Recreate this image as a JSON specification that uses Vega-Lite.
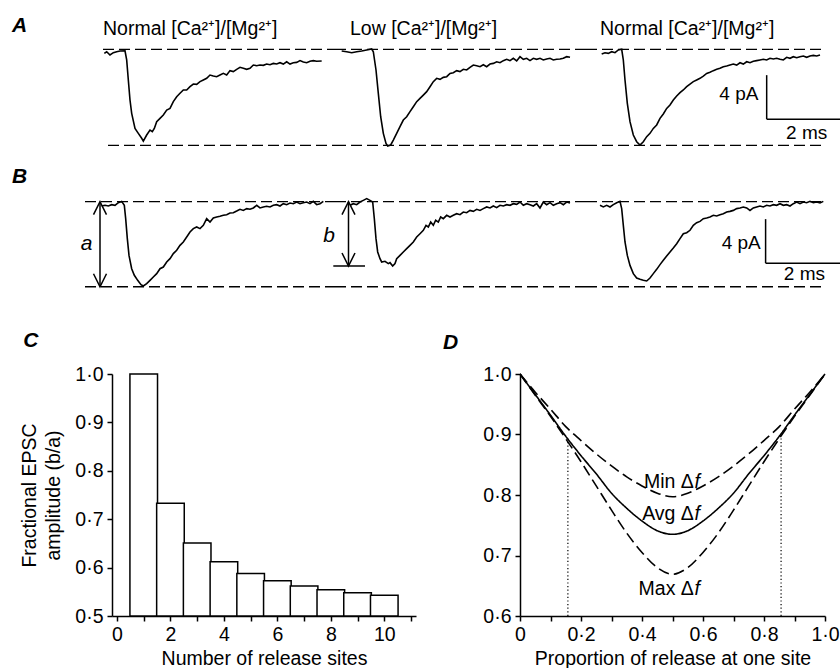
{
  "$schema": "https://vega.github.io/schema/vega-lite/v6.json",
  "padding": 0,
  "background": "white",
  "config": {
    "font": "Liberation Sans",
    "view": {"stroke": null},
    "axis": {"grid": false, "domainColor": "black", "domainWidth": 1.5, "tickColor": "black", "tickWidth": 1.5, "tickSize": 5, "labelColor": "black", "labelFontSize": 19.5, "labelPadding": 4, "labelFlush": false, "labelOverlap": false, "titleColor": "black", "titleFontSize": 19.5, "titleFontWeight": "normal"},
    "text": {"color": "black", "fontSize": 19},
    "line": {"color": "black"},
    "rule": {"color": "black"}
  },
  "datasets": {
    "A1": [{"t":2.608,"i":-0.37},{"t":2.667,"i":-0.22},{"t":2.75,"i":-0.52},{"t":2.833,"i":-0.31},{"t":2.917,"i":-0.22},{"t":3.0,"i":-0.16},{"t":3.125,"i":-0.13},{"t":3.167,"i":-0.97},{"t":3.208,"i":-2.79},{"t":3.25,"i":-4.61},{"t":3.292,"i":-5.82},{"t":3.375,"i":-7.19},{"t":3.458,"i":-7.64},{"t":3.542,"i":-8.09},{"t":3.583,"i":-8.34},{"t":3.667,"i":-7.79},{"t":3.75,"i":-7.34},{"t":3.808,"i":-7.49},{"t":3.858,"i":-7.19},{"t":3.917,"i":-6.58},{"t":4.0,"i":-6.28},{"t":4.083,"i":-5.97},{"t":4.167,"i":-5.52},{"t":4.25,"i":-5.37},{"t":4.333,"i":-4.76},{"t":4.417,"i":-4.31},{"t":4.5,"i":-4.0},{"t":4.583,"i":-3.7},{"t":4.667,"i":-3.7},{"t":4.75,"i":-3.4},{"t":4.833,"i":-3.16},{"t":4.917,"i":-3.19},{"t":5.0,"i":-2.94},{"t":5.083,"i":-2.79},{"t":5.167,"i":-2.64},{"t":5.25,"i":-2.34},{"t":5.333,"i":-2.43},{"t":5.417,"i":-2.49},{"t":5.5,"i":-2.34},{"t":5.583,"i":-2.19},{"t":5.667,"i":-2.34},{"t":5.75,"i":-1.94},{"t":5.833,"i":-2.03},{"t":5.917,"i":-1.82},{"t":6.0,"i":-1.64},{"t":6.083,"i":-1.73},{"t":6.167,"i":-1.82},{"t":6.25,"i":-1.73},{"t":6.333,"i":-1.43},{"t":6.417,"i":-1.49},{"t":6.5,"i":-1.43},{"t":6.583,"i":-1.46},{"t":6.667,"i":-1.34},{"t":6.75,"i":-1.4},{"t":6.833,"i":-1.28},{"t":6.917,"i":-1.34},{"t":7.0,"i":-1.22},{"t":7.083,"i":-1.34},{"t":7.167,"i":-1.13},{"t":7.25,"i":-1.34},{"t":7.333,"i":-1.22},{"t":7.417,"i":-1.19},{"t":7.5,"i":-1.03},{"t":7.583,"i":-1.16},{"t":7.667,"i":-1.22},{"t":7.75,"i":-1.09},{"t":7.833,"i":-1.03},{"t":7.917,"i":-1.09},{"t":8.042,"i":-1.06}],
    "A2": [{"t":0.167,"i":-0.16},{"t":0.292,"i":-0.22},{"t":0.417,"i":-0.31},{"t":0.542,"i":-0.22},{"t":0.667,"i":-0.16},{"t":0.792,"i":-0.06},{"t":0.917,"i":0.03},{"t":0.958,"i":-0.22},{"t":1.025,"i":-1.88},{"t":1.083,"i":-4.0},{"t":1.142,"i":-6.13},{"t":1.208,"i":-7.64},{"t":1.275,"i":-8.55},{"t":1.317,"i":-8.79},{"t":1.392,"i":-8.7},{"t":1.458,"i":-8.25},{"t":1.542,"i":-7.64},{"t":1.625,"i":-7.03},{"t":1.708,"i":-6.43},{"t":1.792,"i":-6.13},{"t":1.875,"i":-5.67},{"t":1.958,"i":-5.22},{"t":2.042,"i":-4.76},{"t":2.125,"i":-4.46},{"t":2.208,"i":-4.16},{"t":2.292,"i":-3.85},{"t":2.375,"i":-3.4},{"t":2.458,"i":-2.94},{"t":2.542,"i":-2.64},{"t":2.625,"i":-2.73},{"t":2.708,"i":-2.55},{"t":2.792,"i":-2.49},{"t":2.875,"i":-2.19},{"t":2.958,"i":-2.13},{"t":3.042,"i":-1.94},{"t":3.125,"i":-2.03},{"t":3.208,"i":-1.82},{"t":3.292,"i":-1.88},{"t":3.375,"i":-1.64},{"t":3.458,"i":-1.43},{"t":3.542,"i":-1.49},{"t":3.625,"i":-1.58},{"t":3.708,"i":-1.4},{"t":3.792,"i":-1.58},{"t":3.875,"i":-1.34},{"t":3.958,"i":-1.28},{"t":4.042,"i":-1.13},{"t":4.125,"i":-1.22},{"t":4.208,"i":-1.03},{"t":4.292,"i":-0.91},{"t":4.375,"i":-1.03},{"t":4.458,"i":-0.82},{"t":4.542,"i":-1.06},{"t":4.625,"i":-0.67},{"t":4.708,"i":-0.91},{"t":4.792,"i":-0.82},{"t":4.875,"i":-1.03},{"t":4.958,"i":-0.82},{"t":5.042,"i":-0.91},{"t":5.125,"i":-0.82},{"t":5.208,"i":-0.97},{"t":5.292,"i":-0.88},{"t":5.375,"i":-0.82},{"t":5.458,"i":-0.97},{"t":5.542,"i":-0.91},{"t":5.625,"i":-0.88},{"t":5.708,"i":-0.82},{"t":5.792,"i":-0.67},{"t":5.875,"i":-0.73}],
    "A3": [{"t":0.392,"i":-0.43},{"t":0.475,"i":-0.31},{"t":0.558,"i":-0.37},{"t":0.642,"i":-0.22},{"t":0.725,"i":-0.31},{"t":0.808,"i":-0.06},{"t":0.892,"i":0.0},{"t":0.933,"i":-0.97},{"t":0.975,"i":-2.79},{"t":1.033,"i":-4.91},{"t":1.1,"i":-6.58},{"t":1.183,"i":-7.79},{"t":1.267,"i":-8.4},{"t":1.35,"i":-8.7},{"t":1.433,"i":-8.4},{"t":1.517,"i":-7.94},{"t":1.6,"i":-7.64},{"t":1.683,"i":-7.19},{"t":1.767,"i":-6.88},{"t":1.85,"i":-6.28},{"t":1.933,"i":-5.88},{"t":2.017,"i":-5.37},{"t":2.1,"i":-5.06},{"t":2.183,"i":-4.61},{"t":2.267,"i":-4.25},{"t":2.35,"i":-3.94},{"t":2.433,"i":-3.7},{"t":2.517,"i":-3.4},{"t":2.6,"i":-3.16},{"t":2.683,"i":-2.94},{"t":2.767,"i":-2.79},{"t":2.85,"i":-2.64},{"t":2.933,"i":-2.43},{"t":3.017,"i":-2.19},{"t":3.1,"i":-2.09},{"t":3.183,"i":-1.94},{"t":3.267,"i":-1.82},{"t":3.35,"i":-1.73},{"t":3.433,"i":-1.58},{"t":3.517,"i":-1.52},{"t":3.6,"i":-1.43},{"t":3.683,"i":-1.34},{"t":3.767,"i":-1.43},{"t":3.85,"i":-1.22},{"t":3.933,"i":-1.34},{"t":4.017,"i":-1.13},{"t":4.1,"i":-1.22},{"t":4.183,"i":-1.09},{"t":4.267,"i":-1.03},{"t":4.35,"i":-0.97},{"t":4.433,"i":-0.91},{"t":4.517,"i":-0.97},{"t":4.6,"i":-0.82},{"t":4.683,"i":-0.88},{"t":4.767,"i":-0.82},{"t":4.85,"i":-0.91},{"t":4.933,"i":-0.97},{"t":5.017,"i":-0.73},{"t":5.1,"i":-0.82},{"t":5.183,"i":-0.67},{"t":5.267,"i":-0.76},{"t":5.35,"i":-0.67},{"t":5.433,"i":-0.61},{"t":5.517,"i":-0.73},{"t":5.6,"i":-0.61},{"t":5.683,"i":-0.55},{"t":5.767,"i":-0.61},{"t":5.85,"i":-0.52}],
    "B1": [{"t":2.542,"i":-0.39},{"t":2.625,"i":-0.33},{"t":2.708,"i":-0.39},{"t":2.792,"i":-0.27},{"t":2.875,"i":-0.33},{"t":2.958,"i":-0.09},{"t":3.042,"i":0.03},{"t":3.108,"i":-0.33},{"t":3.142,"i":-1.54},{"t":3.183,"i":-3.36},{"t":3.225,"i":-4.88},{"t":3.292,"i":-6.09},{"t":3.358,"i":-6.69},{"t":3.442,"i":-7.15},{"t":3.525,"i":-7.54},{"t":3.583,"i":-7.66},{"t":3.667,"i":-7.45},{"t":3.75,"i":-7.15},{"t":3.833,"i":-6.85},{"t":3.917,"i":-6.54},{"t":4.0,"i":-6.09},{"t":4.083,"i":-5.94},{"t":4.167,"i":-5.48},{"t":4.25,"i":-5.18},{"t":4.333,"i":-4.72},{"t":4.417,"i":-4.42},{"t":4.5,"i":-3.97},{"t":4.583,"i":-3.66},{"t":4.667,"i":-3.21},{"t":4.75,"i":-2.75},{"t":4.833,"i":-2.45},{"t":4.917,"i":-2.3},{"t":5.0,"i":-2.45},{"t":5.083,"i":-2.15},{"t":5.167,"i":-1.54},{"t":5.25,"i":-1.85},{"t":5.333,"i":-1.48},{"t":5.417,"i":-1.39},{"t":5.5,"i":-1.33},{"t":5.583,"i":-1.24},{"t":5.667,"i":-1.18},{"t":5.75,"i":-1.03},{"t":5.833,"i":-1.0},{"t":5.917,"i":-0.85},{"t":6.0,"i":-0.69},{"t":6.083,"i":-0.79},{"t":6.167,"i":-0.63},{"t":6.25,"i":-0.69},{"t":6.333,"i":-0.57},{"t":6.417,"i":-0.33},{"t":6.5,"i":-0.57},{"t":6.583,"i":-0.48},{"t":6.667,"i":-0.42},{"t":6.75,"i":-0.48},{"t":6.833,"i":-0.33},{"t":6.917,"i":-0.27},{"t":7.0,"i":-0.39},{"t":7.083,"i":-0.18},{"t":7.167,"i":-0.27},{"t":7.25,"i":-0.12},{"t":7.333,"i":-0.18},{"t":7.417,"i":-0.03},{"t":7.5,"i":-0.18},{"t":7.583,"i":-0.09},{"t":7.667,"i":-0.03},{"t":7.75,"i":-0.18},{"t":7.833,"i":0.03},{"t":7.917,"i":-0.27},{"t":8.0,"i":-0.18},{"t":8.083,"i":0.03}],
    "B2": [{"t":0.375,"i":-0.33},{"t":0.458,"i":-0.18},{"t":0.542,"i":-0.27},{"t":0.625,"i":-0.03},{"t":0.708,"i":0.12},{"t":0.792,"i":0.28},{"t":0.875,"i":0.12},{"t":0.942,"i":-0.03},{"t":0.983,"i":-1.54},{"t":1.025,"i":-3.36},{"t":1.067,"i":-4.57},{"t":1.125,"i":-5.18},{"t":1.167,"i":-5.48},{"t":1.25,"i":-5.42},{"t":1.333,"i":-5.63},{"t":1.375,"i":-5.54},{"t":1.442,"i":-5.85},{"t":1.5,"i":-5.63},{"t":1.542,"i":-5.18},{"t":1.625,"i":-4.88},{"t":1.708,"i":-4.57},{"t":1.792,"i":-4.27},{"t":1.875,"i":-3.97},{"t":1.958,"i":-3.66},{"t":2.042,"i":-3.21},{"t":2.125,"i":-2.91},{"t":2.208,"i":-2.6},{"t":2.275,"i":-2.15},{"t":2.333,"i":-2.3},{"t":2.392,"i":-1.85},{"t":2.458,"i":-2.15},{"t":2.517,"i":-1.69},{"t":2.583,"i":-1.85},{"t":2.642,"i":-1.39},{"t":2.708,"i":-1.54},{"t":2.792,"i":-1.24},{"t":2.875,"i":-1.39},{"t":2.958,"i":-1.24},{"t":3.042,"i":-1.09},{"t":3.125,"i":-1.18},{"t":3.208,"i":-0.94},{"t":3.292,"i":-1.0},{"t":3.375,"i":-0.79},{"t":3.458,"i":-0.88},{"t":3.542,"i":-0.69},{"t":3.625,"i":-0.79},{"t":3.708,"i":-0.63},{"t":3.792,"i":-0.48},{"t":3.875,"i":-0.57},{"t":3.958,"i":-0.39},{"t":4.042,"i":-0.54},{"t":4.125,"i":-0.33},{"t":4.208,"i":-0.39},{"t":4.292,"i":-0.27},{"t":4.375,"i":-0.33},{"t":4.458,"i":-0.18},{"t":4.542,"i":-0.24},{"t":4.625,"i":-0.03},{"t":4.708,"i":-0.33},{"t":4.792,"i":-0.18},{"t":4.875,"i":-0.27},{"t":4.958,"i":-0.39},{"t":5.042,"i":-0.18},{"t":5.125,"i":-0.57},{"t":5.208,"i":-0.03},{"t":5.292,"i":-0.27},{"t":5.375,"i":-0.09},{"t":5.458,"i":-0.33},{"t":5.542,"i":-0.18},{"t":5.625,"i":-0.09},{"t":5.708,"i":-0.27},{"t":5.792,"i":-0.03},{"t":5.875,"i":-0.12}],
    "B3": [{"t":0.35,"i":-0.33},{"t":0.433,"i":-0.48},{"t":0.517,"i":-0.33},{"t":0.6,"i":-0.48},{"t":0.683,"i":-0.27},{"t":0.767,"i":-0.09},{"t":0.85,"i":0.03},{"t":0.892,"i":-0.63},{"t":0.933,"i":-2.15},{"t":0.975,"i":-3.66},{"t":1.033,"i":-4.88},{"t":1.1,"i":-5.79},{"t":1.183,"i":-6.54},{"t":1.267,"i":-6.94},{"t":1.35,"i":-7.06},{"t":1.433,"i":-7.15},{"t":1.517,"i":-7.21},{"t":1.6,"i":-6.94},{"t":1.683,"i":-6.54},{"t":1.767,"i":-6.15},{"t":1.85,"i":-5.72},{"t":1.933,"i":-5.33},{"t":2.017,"i":-4.94},{"t":2.1,"i":-4.57},{"t":2.183,"i":-4.21},{"t":2.267,"i":-3.82},{"t":2.35,"i":-3.36},{"t":2.433,"i":-2.91},{"t":2.517,"i":-2.82},{"t":2.6,"i":-2.6},{"t":2.683,"i":-2.15},{"t":2.767,"i":-1.91},{"t":2.85,"i":-1.79},{"t":2.933,"i":-1.54},{"t":3.017,"i":-1.48},{"t":3.1,"i":-1.39},{"t":3.183,"i":-1.24},{"t":3.267,"i":-1.3},{"t":3.35,"i":-1.18},{"t":3.433,"i":-1.09},{"t":3.517,"i":-0.94},{"t":3.6,"i":-0.88},{"t":3.683,"i":-0.79},{"t":3.767,"i":-0.63},{"t":3.85,"i":-0.57},{"t":3.933,"i":-0.48},{"t":4.017,"i":-0.57},{"t":4.1,"i":-0.79},{"t":4.183,"i":-0.57},{"t":4.267,"i":-0.48},{"t":4.35,"i":-0.39},{"t":4.433,"i":-0.48},{"t":4.517,"i":-0.33},{"t":4.6,"i":-0.39},{"t":4.683,"i":-0.27},{"t":4.767,"i":-0.33},{"t":4.85,"i":-0.18},{"t":4.933,"i":-0.33},{"t":5.017,"i":-0.27},{"t":5.1,"i":-0.39},{"t":5.183,"i":-0.18},{"t":5.267,"i":-0.03},{"t":5.35,"i":-0.18},{"t":5.433,"i":-0.03},{"t":5.517,"i":-0.09},{"t":5.6,"i":0.03},{"t":5.683,"i":-0.09},{"t":5.767,"i":-0.03},{"t":5.85,"i":-0.12},{"t":5.933,"i":0.03}],
    "sites": [{"n":1,"ratio":1.0},{"n":2,"ratio":0.733},{"n":3,"ratio":0.651},{"n":4,"ratio":0.612},{"n":5,"ratio":0.588},{"n":6,"ratio":0.573},{"n":7,"ratio":0.562},{"n":8,"ratio":0.554},{"n":9,"ratio":0.548},{"n":10,"ratio":0.543}],
    "curves": [
      {"curve":"Avg","p":0,"v":1.0},{"curve":"Avg","p":0.05,"v":0.966},{"curve":"Avg","p":0.1,"v":0.932},{"curve":"Avg","p":0.15,"v":0.897},{"curve":"Avg","p":0.2,"v":0.865},{"curve":"Avg","p":0.25,"v":0.835},{"curve":"Avg","p":0.3,"v":0.803},{"curve":"Avg","p":0.35,"v":0.778},{"curve":"Avg","p":0.4,"v":0.757},{"curve":"Avg","p":0.45,"v":0.741},{"curve":"Avg","p":0.5,"v":0.735},{"curve":"Avg","p":0.55,"v":0.741},{"curve":"Avg","p":0.6,"v":0.757},{"curve":"Avg","p":0.65,"v":0.778},{"curve":"Avg","p":0.7,"v":0.803},{"curve":"Avg","p":0.75,"v":0.835},{"curve":"Avg","p":0.8,"v":0.865},{"curve":"Avg","p":0.85,"v":0.897},{"curve":"Avg","p":0.9,"v":0.932},{"curve":"Avg","p":0.95,"v":0.966},{"curve":"Avg","p":1.0,"v":1.0},
      {"curve":"Min","p":0,"v":1.0},{"curve":"Min","p":0.05,"v":0.97},{"curve":"Min","p":0.1,"v":0.942},{"curve":"Min","p":0.15,"v":0.913},{"curve":"Min","p":0.2,"v":0.89},{"curve":"Min","p":0.25,"v":0.868},{"curve":"Min","p":0.3,"v":0.848},{"curve":"Min","p":0.35,"v":0.83},{"curve":"Min","p":0.4,"v":0.815},{"curve":"Min","p":0.45,"v":0.803},{"curve":"Min","p":0.5,"v":0.797},{"curve":"Min","p":0.55,"v":0.803},{"curve":"Min","p":0.6,"v":0.815},{"curve":"Min","p":0.65,"v":0.83},{"curve":"Min","p":0.7,"v":0.848},{"curve":"Min","p":0.75,"v":0.868},{"curve":"Min","p":0.8,"v":0.89},{"curve":"Min","p":0.85,"v":0.913},{"curve":"Min","p":0.9,"v":0.942},{"curve":"Min","p":0.95,"v":0.97},{"curve":"Min","p":1.0,"v":1.0},
      {"curve":"Max","p":0,"v":1.0},{"curve":"Max","p":0.05,"v":0.965},{"curve":"Max","p":0.1,"v":0.93},{"curve":"Max","p":0.15,"v":0.893},{"curve":"Max","p":0.2,"v":0.855},{"curve":"Max","p":0.25,"v":0.815},{"curve":"Max","p":0.3,"v":0.775},{"curve":"Max","p":0.35,"v":0.737},{"curve":"Max","p":0.4,"v":0.705},{"curve":"Max","p":0.45,"v":0.68},{"curve":"Max","p":0.5,"v":0.669},{"curve":"Max","p":0.55,"v":0.68},{"curve":"Max","p":0.6,"v":0.705},{"curve":"Max","p":0.65,"v":0.737},{"curve":"Max","p":0.7,"v":0.775},{"curve":"Max","p":0.75,"v":0.815},{"curve":"Max","p":0.8,"v":0.855},{"curve":"Max","p":0.85,"v":0.893},{"curve":"Max","p":0.9,"v":0.93},{"curve":"Max","p":0.95,"v":0.965},{"curve":"Max","p":1.0,"v":1.0}
    ]
  },
  "spacing": 0,
  "vconcat": [
    {
      "spacing": 0,
      "bounds": "flush",
      "hconcat": [
        {
          "width": 335, "height": 155,
          "encoding": {
            "x": {"field": "t", "type": "quantitative", "scale": {"domain": [0, 8.375], "nice": false, "zero": false}, "axis": null},
            "y": {"field": "i", "type": "quantitative", "scale": {"domain": [-9.609, 4.482], "nice": false, "zero": false}, "axis": null}
          },
          "layer": [
            {"data": {"values": [{"t": 2.575, "t2": 8.375, "i": 0}, {"t": 2.7, "t2": 8.375, "i": -8.73}]}, "mark": {"type": "rule", "strokeDash": [11, 5], "strokeWidth": 1.3}, "encoding": {"x2": {"field": "t2"}}},
            {"data": {"name": "A1"}, "mark": {"type": "line", "strokeWidth": 1.6}},
            {"data": {"values": [{"t": 2.575, "i": 1.345, "label": "Normal [Ca²⁺]/[Mg²⁺]"}]}, "mark": {"type": "text", "align": "left", "baseline": "alphabetic", "fontSize": 19.5}, "encoding": {"text": {"field": "label"}}},
            {"data": {"values": [{"t": 0.3, "i": 1.545, "label": "A"}]}, "mark": {"type": "text", "align": "left", "baseline": "alphabetic", "fontSize": 21, "fontWeight": "bold", "fontStyle": "italic"}, "encoding": {"text": {"field": "label"}}}
          ]
        },
        {
          "width": 251, "height": 155,
          "encoding": {
            "x": {"field": "t", "type": "quantitative", "scale": {"domain": [0, 6.275], "nice": false, "zero": false}, "axis": null},
            "y": {"field": "i", "type": "quantitative", "scale": {"domain": [-9.609, 4.482], "nice": false, "zero": false}, "axis": null}
          },
          "layer": [
            {"data": {"values": [{"t": 0, "t2": 6.275, "i": 0}, {"t": 0, "t2": 6.275, "i": -8.73}]}, "mark": {"type": "rule", "strokeDash": [11, 5], "strokeWidth": 1.3}, "encoding": {"x2": {"field": "t2"}}},
            {"data": {"name": "A2"}, "mark": {"type": "line", "strokeWidth": 1.6}},
            {"data": {"values": [{"t": 0.375, "i": 1.345, "label": "Low [Ca²⁺]/[Mg²⁺]"}]}, "mark": {"type": "text", "align": "left", "baseline": "alphabetic", "fontSize": 19.5}, "encoding": {"text": {"field": "label"}}}
          ]
        },
        {
          "width": 254, "height": 155,
          "encoding": {
            "x": {"field": "t", "type": "quantitative", "scale": {"domain": [0, 6.35], "nice": false, "zero": false}, "axis": null},
            "y": {"field": "i", "type": "quantitative", "scale": {"domain": [-9.609, 4.482], "nice": false, "zero": false}, "axis": null}
          },
          "layer": [
            {"data": {"values": [{"t": 0, "t2": 5.975, "i": 0}, {"t": 0, "t2": 5.975, "i": -8.73}]}, "mark": {"type": "rule", "strokeDash": [11, 5], "strokeWidth": 1.3}, "encoding": {"x2": {"field": "t2"}}},
            {"data": {"name": "A3"}, "mark": {"type": "line", "strokeWidth": 1.6}},
            {"data": {"values": [{"t": 0.35, "i": 1.345, "label": "Normal [Ca²⁺]/[Mg²⁺]"}]}, "mark": {"type": "text", "align": "left", "baseline": "alphabetic", "fontSize": 19.5}, "encoding": {"text": {"field": "label"}}},
            {"data": {"values": [{"t": 4.517, "i": -2.35, "i2": -6.35}]}, "mark": {"type": "rule", "strokeWidth": 1.5}, "encoding": {"y2": {"field": "i2"}}},
            {"data": {"values": [{"t": 4.517, "t2": 6.517, "i": -6.35}]}, "mark": {"type": "rule", "strokeWidth": 1.5, "clip": true}, "encoding": {"x2": {"field": "t2"}}},
            {"data": {"values": [{"t": 4.31, "i": -4.6, "label": "4 pA"}]}, "mark": {"type": "text", "align": "right", "baseline": "alphabetic"}, "encoding": {"text": {"field": "label"}}},
            {"data": {"values": [{"t": 5.517, "i": -8.12, "label": "2 ms"}]}, "mark": {"type": "text", "align": "center", "baseline": "alphabetic"}, "encoding": {"text": {"field": "label"}}}
          ]
        }
      ]
    },
    {
      "spacing": 0,
      "bounds": "flush",
      "hconcat": [
        {
          "width": 335, "height": 174,
          "encoding": {
            "x": {"field": "t", "type": "quantitative", "scale": {"domain": [0, 8.375], "nice": false, "zero": false}, "axis": null},
            "y": {"field": "i", "type": "quantitative", "scale": {"domain": [-11.573, 4.245], "nice": false, "zero": false}, "axis": null}
          },
          "layer": [
            {"data": {"values": [{"t": 2.125, "t2": 8.375, "i": 0}, {"t": 2.125, "t2": 8.375, "i": -7.73}]}, "mark": {"type": "rule", "strokeDash": [11, 5], "strokeWidth": 1.3}, "encoding": {"x2": {"field": "t2"}}},
            {"data": {"name": "B1"}, "mark": {"type": "line", "strokeWidth": 1.6}},
            {"data": {"values": [{"t": 2.5, "i": 0, "i2": -7.73}]}, "mark": {"type": "rule", "strokeWidth": 1.5}, "encoding": {"y2": {"field": "i2"}}},
            {"data": {"values": [{"t": 2.5, "i": 0}]}, "mark": {"type": "point", "shape": "M-1,2L0,0L1,2", "size": 169, "filled": false, "strokeWidth": 1.5, "color": "black", "opacity": 1}},
            {"data": {"values": [{"t": 2.5, "i": -7.73}]}, "mark": {"type": "point", "shape": "M-1,-2L0,0L1,-2", "size": 169, "filled": false, "strokeWidth": 1.5, "color": "black", "opacity": 1}},
            {"data": {"values": [{"t": 2.167, "i": -4.42, "label": "a"}]}, "mark": {"type": "text", "align": "center", "baseline": "alphabetic", "fontSize": 21, "fontStyle": "italic"}, "encoding": {"text": {"field": "label"}}},
            {"data": {"values": [{"t": 0.3, "i": 1.727, "label": "B"}]}, "mark": {"type": "text", "align": "left", "baseline": "alphabetic", "fontSize": 21, "fontWeight": "bold", "fontStyle": "italic"}, "encoding": {"text": {"field": "label"}}}
          ]
        },
        {
          "width": 251, "height": 174,
          "encoding": {
            "x": {"field": "t", "type": "quantitative", "scale": {"domain": [0, 6.275], "nice": false, "zero": false}, "axis": null},
            "y": {"field": "i", "type": "quantitative", "scale": {"domain": [-11.573, 4.245], "nice": false, "zero": false}, "axis": null}
          },
          "layer": [
            {"data": {"values": [{"t": 0, "t2": 6.275, "i": 0}, {"t": 0, "t2": 6.275, "i": -7.73}]}, "mark": {"type": "rule", "strokeDash": [11, 5], "strokeWidth": 1.3}, "encoding": {"x2": {"field": "t2"}}},
            {"data": {"name": "B2"}, "mark": {"type": "line", "strokeWidth": 1.6}},
            {"data": {"values": [{"t": 0.3375, "i": 0, "i2": -5.845}]}, "mark": {"type": "rule", "strokeWidth": 1.5}, "encoding": {"y2": {"field": "i2"}}},
            {"data": {"values": [{"t": -0.0425, "t2": 0.75, "i": -5.845}]}, "mark": {"type": "rule", "strokeWidth": 1.5}, "encoding": {"x2": {"field": "t2"}}},
            {"data": {"values": [{"t": 0.3375, "i": 0}]}, "mark": {"type": "point", "shape": "M-1,2L0,0L1,2", "size": 169, "filled": false, "strokeWidth": 1.5, "color": "black", "opacity": 1}},
            {"data": {"values": [{"t": 0.3375, "i": -5.845}]}, "mark": {"type": "point", "shape": "M-1,-2L0,0L1,-2", "size": 169, "filled": false, "strokeWidth": 1.5, "color": "black", "opacity": 1}},
            {"data": {"values": [{"t": -0.15, "i": -3.66, "label": "b"}]}, "mark": {"type": "text", "align": "center", "baseline": "alphabetic", "fontSize": 21, "fontStyle": "italic"}, "encoding": {"text": {"field": "label"}}}
          ]
        },
        {
          "width": 254, "height": 174,
          "encoding": {
            "x": {"field": "t", "type": "quantitative", "scale": {"domain": [0, 6.35], "nice": false, "zero": false}, "axis": null},
            "y": {"field": "i", "type": "quantitative", "scale": {"domain": [-11.573, 4.245], "nice": false, "zero": false}, "axis": null}
          },
          "layer": [
            {"data": {"values": [{"t": 0, "t2": 5.975, "i": 0}, {"t": 0, "t2": 5.975, "i": -7.73}]}, "mark": {"type": "rule", "strokeDash": [11, 5], "strokeWidth": 1.3}, "encoding": {"x2": {"field": "t2"}}},
            {"data": {"name": "B3"}, "mark": {"type": "line", "strokeWidth": 1.6}},
            {"data": {"values": [{"t": 4.49, "i": -1.585, "i2": -5.585}]}, "mark": {"type": "rule", "strokeWidth": 1.5}, "encoding": {"y2": {"field": "i2"}}},
            {"data": {"values": [{"t": 4.49, "t2": 6.49, "i": -5.585}]}, "mark": {"type": "rule", "strokeWidth": 1.5, "clip": true}, "encoding": {"x2": {"field": "t2"}}},
            {"data": {"values": [{"t": 4.37, "i": -4.27, "label": "4 pA"}]}, "mark": {"type": "text", "align": "right", "baseline": "alphabetic"}, "encoding": {"text": {"field": "label"}}},
            {"data": {"values": [{"t": 5.46, "i": -7.15, "label": "2 ms"}]}, "mark": {"type": "text", "align": "center", "baseline": "alphabetic"}, "encoding": {"text": {"field": "label"}}}
          ]
        }
      ]
    },
    {
      "spacing": 104,
      "bounds": "flush",
      "hconcat": [
        {"width": 8, "height": 242, "data": {"values": []}, "mark": "point", "encoding": {}},
        {
          "width": 304, "height": 242,
          "encoding": {
            "x": {"field": "n", "type": "quantitative", "scale": {"domain": [0, 11], "nice": false, "zero": false},
                  "axis": {"values": [0, 1, 2, 3, 4, 5, 6, 7, 8, 9, 10, 11], "labelExpr": "datum.value % 2 === 0 ? datum.label : ''", "title": "Number of release sites", "titlePadding": 6}},
            "y": {"field": "ratio", "type": "quantitative", "scale": {"domain": [0.5, 1], "nice": false, "zero": false},
                  "axis": {"values": [0.5, 0.6, 0.7, 0.8, 0.9, 1], "labelExpr": "replace(format(datum.value, '.1f'), '.', '·')", "title": ["Fractional EPSC", "amplitude (b/a)"], "titlePadding": 11, "titleLineHeight": 24}}
          },
          "layer": [
            {"data": {"name": "sites"}, "mark": {"type": "bar", "width": 27.6, "fill": "white", "stroke": "black", "strokeWidth": 1.5}, "encoding": {"y2": {"datum": 0.5}}},
            {"data": {"values": [{"n": -3.51, "ratio": 1.0558, "label": "C"}]}, "mark": {"type": "text", "align": "left", "baseline": "alphabetic", "fontSize": 21, "fontWeight": "bold", "fontStyle": "italic"}, "encoding": {"text": {"field": "label"}}}
          ]
        },
        {
          "width": 305, "height": 242,
          "encoding": {
            "x": {"field": "p", "type": "quantitative", "scale": {"domain": [0, 1], "nice": false, "zero": false},
                  "axis": {"values": [0, 0.1, 0.2, 0.3, 0.4, 0.5, 0.6, 0.7, 0.8, 0.9, 1], "labelExpr": "datum.value == 0 ? '0' : (round(datum.value * 10) % 2 == 0 ? replace(format(datum.value, '.1f'), '.', '·') : '')", "title": "Proportion of release at one site", "titlePadding": 6}},
            "y": {"field": "v", "type": "quantitative", "scale": {"domain": [0.6, 1], "nice": false, "zero": false},
                  "axis": {"values": [0.6, 0.7, 0.8, 0.9, 1], "labelExpr": "replace(format(datum.value, '.1f'), '.', '·')", "title": null}}
          },
          "layer": [
            {"data": {"name": "curves"}, "mark": {"type": "line", "strokeWidth": 1.6, "interpolate": "monotone"},
             "encoding": {"detail": {"field": "curve"}, "strokeDash": {"field": "curve", "type": "nominal", "scale": {"domain": ["Avg", "Min", "Max"], "range": [[1, 0], [11, 5], [11, 5]]}, "legend": null}}},
            {"data": {"values": [{"p": 0.157, "v": 0.6, "v2": 0.893}, {"p": 0.856, "v": 0.6, "v2": 0.9}]}, "mark": {"type": "rule", "strokeWidth": 1.2, "strokeDash": [1.2, 2.4]}, "encoding": {"y2": {"field": "v2"}}},
            {"data": {"values": [{"p": 0.57, "v": 0.812, "label": "Min Δ"}, {"p": 0.57, "v": 0.758, "label": "Avg Δ"}, {"p": 0.57, "v": 0.635, "label": "Max Δ"}]}, "mark": {"type": "text", "align": "right", "baseline": "alphabetic", "fontSize": 19.5}, "encoding": {"text": {"field": "label"}}},
            {"data": {"values": [{"p": 0.572, "v": 0.812}, {"p": 0.572, "v": 0.758}, {"p": 0.572, "v": 0.635}]}, "mark": {"type": "text", "align": "left", "baseline": "alphabetic", "fontSize": 19.5, "fontStyle": "italic", "text": "f"}},
            {"data": {"values": [{"p": -0.2525, "v": 1.0421, "label": "D"}]}, "mark": {"type": "text", "align": "left", "baseline": "alphabetic", "fontSize": 21, "fontWeight": "bold", "fontStyle": "italic"}, "encoding": {"text": {"field": "label"}}}
          ]
        }
      ]
    }
  ]
}
